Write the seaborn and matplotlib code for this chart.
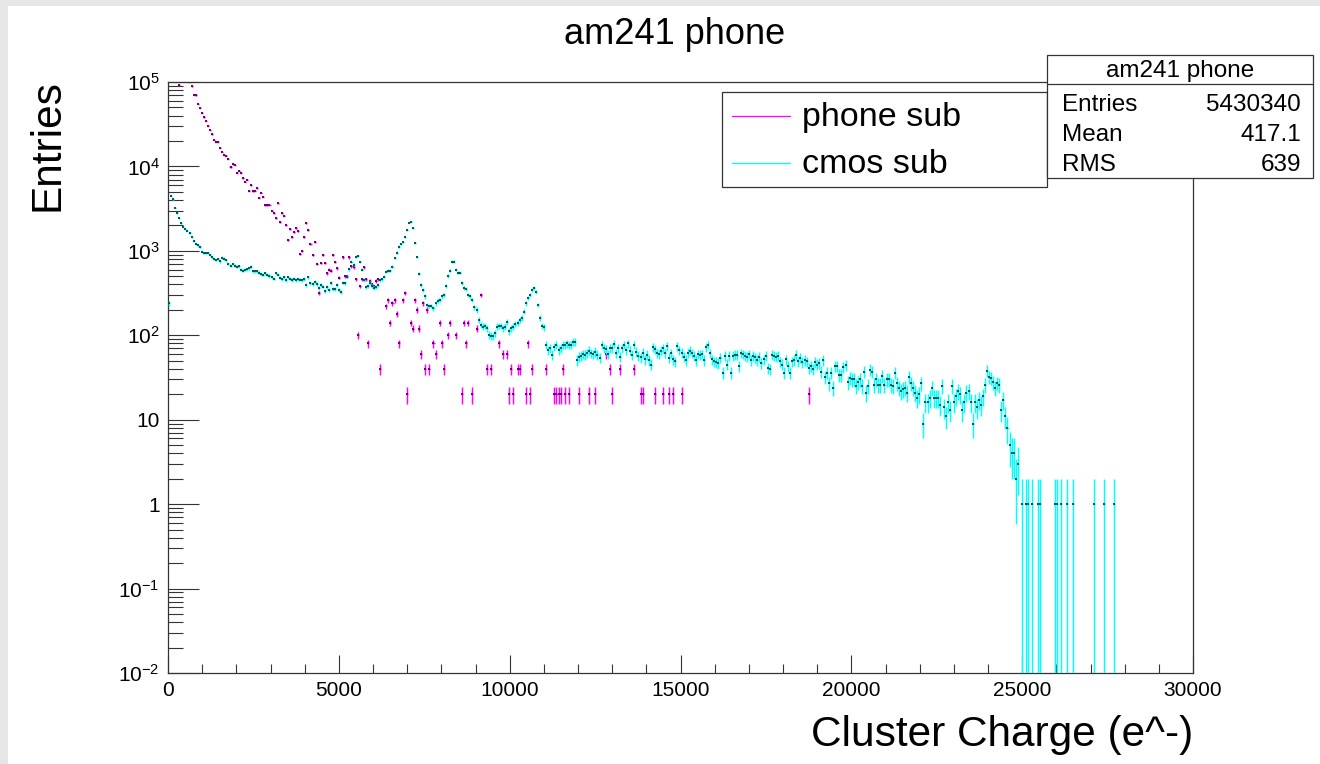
import numpy as np
import matplotlib
matplotlib.use("Agg")
import matplotlib.pyplot as plt
import seaborn as sns
from matplotlib.patches import Rectangle
from matplotlib.lines import Line2D
from matplotlib.ticker import FixedLocator, LogLocator, MultipleLocator, NullFormatter

# ------------------------------------------------------------------ data
bin_width = 60
n_bins = 500

# cmos sub: contiguous bins starting at bin 0
cmos_rise = [240, 4490, 4100, 3260, 2790, 2420, 2110, 1940, 1810, 1740, 1620, 1440, 1310, 1220, 1160, 1110,
             980, 940, 940, 940, 900, 840, 800, 780, 800, 750, 830, 810, 770, 700, 665, 700, 665, 650, 660,
             595, 585, 600, 605, 620, 650, 575, 570, 575, 553,
             533, 520, 545, 520, 506, 488, 470, 545, 520, 480, 461, 488, 453, 488, 470, 453, 470, 453, 461, 455]
cmos_peaks = [453, 466, 396, 488, 414, 406, 432, 406, 361, 392,
              378, 336, 371, 345, 414, 351, 351, 396, 345, 327,
              421, 414, 496, 607, 748, 683, 857, 873, 741, 596,
              453, 371, 385, 414, 385, 361, 371, 396, 453, 462,
              496, 569, 585, 585, 652, 820, 955, 1125, 1210, 1290,
              1450, 1770, 2160, 2220, 1860, 1250, 842, 534, 396, 345,
              288, 229, 223, 223, 209, 240, 258, 263, 288, 301,
              385, 505, 585, 748, 748, 596, 553, 553, 414, 361,
              351, 301, 288, 263, 215, 200, 152, 133, 127, 129,
              121, 101, 98, 97, 106, 127, 129, 129, 121, 127,
              145, 111, 121, 127, 136, 139, 152, 160, 191, 240,
              275, 301, 345, 361, 330, 229, 159, 129, 125, 77,
              67, 70, 59, 73, 77, 67, 70, 77, 77, 80,
              77, 77, 84, 84, 51, 56, 57, 60, 59, 61,
              66, 61, 60, 64, 59, 54]
cmos_plateau = [77, 70, 68, 60, 70, 70, 79, 61, 70, 56,
                70, 77, 67, 80, 66, 59, 77, 64, 57, 55,
                62, 52, 59, 51, 45, 72, 68, 61, 60, 66,
                70, 61, 74, 54, 61, 52, 49, 74, 67, 62,
                56, 51, 62, 66, 61, 57, 51, 60, 59, 60,
                51, 72, 77, 61, 52, 49, 48, 47, 54, 36,
                57, 45, 57, 36, 57, 59, 59, 43, 61, 60,
                57, 56, 60, 51, 57, 55, 51, 56, 47, 52,
                57, 41, 40, 59, 57, 56, 57, 49, 45, 36,
                52, 43, 36, 49, 51, 59, 49, 54, 48, 51,
                49, 41, 43, 40, 48, 45, 47, 37, 51, 32,
                36, 27, 36, 24, 43, 43, 34, 34, 42, 44,
                28, 31, 30, 30, 25, 28]
cmos_edge = [30, 25, 37, 21, 25, 39, 37, 26, 30, 26,
             26, 33, 26, 30, 30, 26, 25, 36, 27, 24,
             22, 23, 24, 21, 32, 27, 24, 21, 18, 20, 27,
             9, 16, 16, 18, 24, 18, 18, 18, 15, 25, 14, 11,
             16, 13, 25, 16, 19, 22, 20, 13, 16, 21, 22,
             16, 9, 16, 14, 17, 15, 19, 26,
             38, 32, 31, 28, 24, 27, 26,
             13, 17, 11, 8, 5, 4, 4, 2, 3]
cmos_tail_bins = [416, 418, 419, 421, 424, 425, 432, 433, 435, 438, 441, 451, 456, 461]
cmos_tail_vals = [1, 1, 1, 1, 1, 1, 1, 1, 1, 1, 1, 1, 1, 1]

# phone sub: contiguous bins 0-78, then sparse bins
phone_head = [980000, 860000, 640000, 410000, 230000, 92700,
              108000, 106000, 104000, 103000, 101000,
              88500, 70500, 69200, 55200, 49000, 42700, 38000, 34700, 30300, 26900,
              23900, 20500, 19500, 19500, 16700, 14900, 13800, 13400, 12300, 9800,
              10600, 10400, 8400, 8870, 8400, 7260, 6570, 6940, 5140, 6000,
              5090, 5140, 5520, 4250, 4910, 4400, 3500, 3480, 3540, 3000,
              2790, 2460, 3670, 2210, 2790, 2620, 2000, 1340, 1810, 1440,
              1690, 1870, 1730, 920, 1000, 1470, 2110, 1760, 1200, 900,
              1270, 700, 320, 720, 900, 720, 540, 600]
phone_sparse_bins = [79, 80, 81, 82, 83, 85, 86, 87, 88, 89, 90, 91, 92, 93, 94, 95, 96, 97, 98, 99, 100,
                     101, 102, 103, 106, 107, 108, 109, 110, 111, 112, 114, 115, 116, 118, 119, 120,
                     121, 122, 123, 124, 125, 126, 127, 129, 130, 132, 133, 134, 136, 137, 140, 143,
                     144, 145, 146, 148, 150, 152, 155, 157, 161, 163, 165, 166, 167, 168, 170, 171,
                     174, 175, 176, 177, 184, 188, 189, 190, 191, 192, 193, 195, 200, 205, 208, 213,
                     215, 216, 220, 227, 230, 231, 237, 241, 244, 246, 250, 312]
phone_sparse_vals = [580, 900, 740, 620, 480, 840, 500, 500, 840, 660, 640, 460, 100, 380, 460, 640, 460, 80, 440, 400, 380,
                     440, 460, 40, 220, 260, 140, 240, 260, 180, 80, 260, 320, 20, 140, 120, 260,
                     200, 120, 60, 240, 40, 200, 40, 80, 60, 140, 80, 40, 100, 140, 100, 20,
                     140, 80, 140, 20, 120, 300, 40, 40, 80, 60, 60, 20, 40, 20, 40, 40,
                     20, 80, 20, 40, 40, 20, 20, 20, 20, 40, 20, 20, 20, 20, 20, 60,
                     40, 20, 40, 40, 20, 20, 20, 20, 20, 20, 20, 20]

series_names = ["phone sub", "cmos sub"]
series_colors = ["#ff00ff", "#00ffff"]
marker_colors = ["#700070", "#005a5a"]
title_text = "am241 phone"
x_label = "Cluster Charge (e^-)"
y_label = "Entries"
stats_rows = [("Entries", "5430340"), ("Mean", "417.1"), ("RMS", "639")]
x_ticks = [0, 5000, 10000, 15000, 20000, 25000, 30000]
x_tick_labels = ["0", "5000", "10000", "15000", "20000", "25000", "30000"]
y_ticks = [1e-2, 1e-1, 1, 10, 1e2, 1e3, 1e4, 1e5]
y_tick_labels = [r"$\mathregular{10^{-2}}$", r"$\mathregular{10^{-1}}$", "1", "10",
                 r"$\mathregular{10^{2}}$", r"$\mathregular{10^{3}}$", r"$\mathregular{10^{4}}$",
                 r"$\mathregular{10^{5}}$"]

# build histograms
cmos = np.zeros(n_bins)
contig = cmos_rise + cmos_peaks + cmos_plateau + cmos_edge
cmos[:len(contig)] = contig
cmos[cmos_tail_bins] = cmos_tail_vals
phone = np.zeros(n_bins)
phone[:len(phone_head)] = phone_head
phone[phone_sparse_bins] = phone_sparse_vals
centers = np.arange(n_bins) * bin_width + bin_width / 2

# ------------------------------------------------------------------ style
sns.set_theme(style="white")
plt.rcParams["font.family"] = ["Liberation Sans", "DejaVu Sans"]
plt.rcParams["mathtext.default"] = "regular"
plt.rcParams["text.color"] = "black"
plt.rcParams["xtick.color"] = "black"
plt.rcParams["ytick.color"] = "black"

W, H = 1320, 764
fig = plt.figure(figsize=(W / 100, H / 100), dpi=100, facecolor="#e6e6e6")


def fx(px):
    return px / W


def fy(py):
    return 1 - py / H


# white canvas
fig.add_artist(Rectangle((fx(8), 0), 1 - fx(8), fy(6), transform=fig.transFigure,
                         facecolor="white", edgecolor="none", zorder=-100))

ax_l, ax_r, ax_t, ax_b = 168, 1193, 82, 673
ax = fig.add_axes([fx(ax_l), fy(ax_b), (ax_r - ax_l) / W, (ax_b - ax_t) / H])
ax.set_facecolor("white")


def draw(values, color, mcolor, z):
    v = np.asarray(values, float)
    m = v > 0
    x = centers[m]
    y = v[m]
    err = np.sqrt(y)
    lo = np.minimum(err, y - 1e-5)
    ax.errorbar(x, y, yerr=[lo, err], xerr=bin_width / 2, fmt="none", ecolor=color,
                elinewidth=1.05, capsize=0, zorder=z)
    sns.scatterplot(x=x, y=y, ax=ax, color=mcolor, s=0.55, marker="s", linewidth=0,
                    legend=False, zorder=z + 0.5)


draw(phone, series_colors[0], marker_colors[0], 2)
draw(cmos, series_colors[1], marker_colors[1], 3)

ax.set_yscale("log")
ax.set_xlim(0, 30000)
ax.set_ylim(1e-2, 1e5)
ax.set_xlabel("")
ax.set_ylabel("")

ax.xaxis.set_major_locator(FixedLocator(x_ticks))
ax.set_xticklabels(x_tick_labels)
ax.xaxis.set_minor_locator(MultipleLocator(1000))
ax.yaxis.set_major_locator(FixedLocator(y_ticks))
ax.set_yticklabels(y_tick_labels)
ax.yaxis.set_minor_locator(LogLocator(base=10, subs=np.arange(2, 10), numticks=20))
ax.yaxis.set_minor_formatter(NullFormatter())

ax.tick_params(axis="x", which="major", direction="in", length=13, width=0.8, color="#333333",
               labelsize=15, labelcolor="black", pad=6, bottom=True, top=False)
ax.tick_params(axis="x", which="minor", direction="in", length=6.5, width=0.8, color="#333333",
               bottom=True, top=False)
ax.tick_params(axis="y", which="major", direction="in", length=22.3, width=0.8, color="#333333",
               labelsize=15, labelcolor="black", pad=6, left=True, right=False)
ax.tick_params(axis="y", which="minor", direction="in", length=10.8, width=0.8, color="#333333",
               left=True, right=False)
for s in ax.spines.values():
    s.set_color("#333333")
    s.set_linewidth(0.9)

# titles
fig.text(fx(675), fy(44), title_text, ha="center", va="baseline", fontsize=26, color="black")
fig.text(fx(1193), fy(746), x_label, ha="right", va="baseline", fontsize=30.5, color="black")
fig.text(fx(47), fy(145), y_label, ha="center", va="center", rotation=90, fontsize=30.5, color="black")

# legend box
fig.add_artist(Rectangle((fx(722), fy(187)), (1047 - 722) / W, (187 - 92) / H,
                         transform=fig.transFigure, facecolor="white", edgecolor="#333333",
                         linewidth=0.9, zorder=10))
for name, col, yy in zip(series_names, series_colors, [116, 163]):
    fig.add_artist(Line2D([fx(732), fx(790)], [fy(yy), fy(yy)], transform=fig.transFigure,
                          color=col, linewidth=0.9, zorder=11))
    fig.text(fx(802), fy(yy + 10), name, ha="left", va="baseline", fontsize=24.5, color="black",
             zorder=12)

# stats box
fig.add_artist(Rectangle((fx(1047), fy(178)), (1313 - 1047) / W, (178 - 55) / H,
                         transform=fig.transFigure, facecolor="white", edgecolor="#333333",
                         linewidth=0.9, zorder=10))
fig.add_artist(Line2D([fx(1047), fx(1313)], [fy(84), fy(84)], transform=fig.transFigure,
                      color="#333333", linewidth=0.9, zorder=11))
fig.text(fx(1180), fy(77), title_text, ha="center", va="baseline", fontsize=17.5, color="black",
         zorder=12)
for (lab, val), yy in zip(stats_rows, [111, 141, 171]):
    fig.text(fx(1062), fy(yy), lab, ha="left", va="baseline", fontsize=17.5, color="black", zorder=12)
    fig.text(fx(1301), fy(yy), val, ha="right", va="baseline", fontsize=17.5, color="black", zorder=12)

fig.savefig("out.png", dpi=100, facecolor=fig.get_facecolor())
